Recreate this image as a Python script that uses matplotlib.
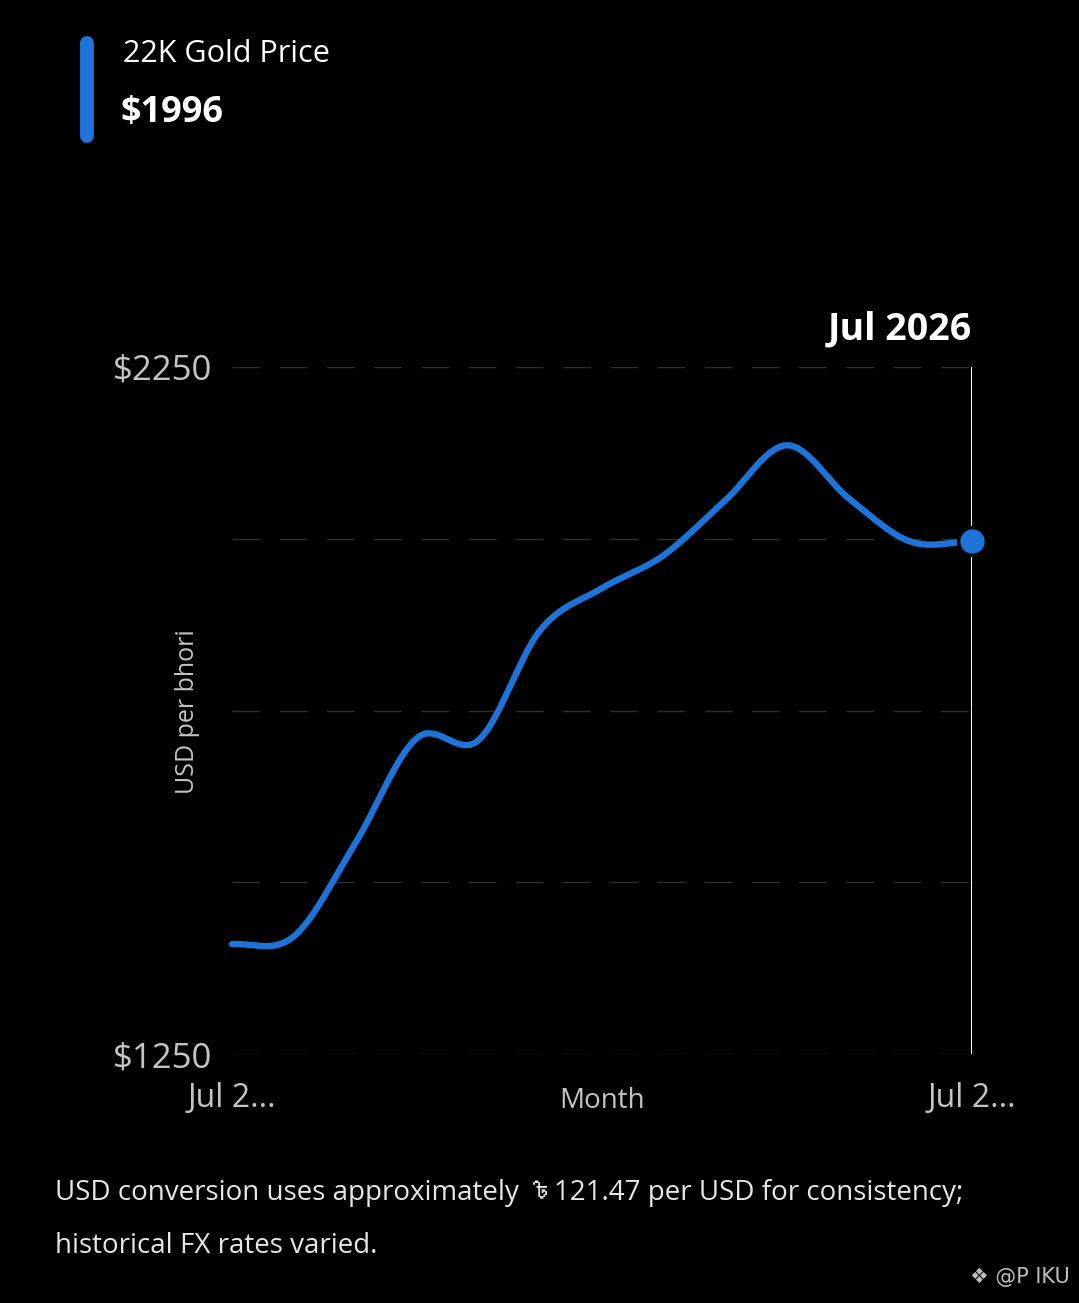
import numpy as np
import matplotlib
matplotlib.use("Agg")
import matplotlib.pyplot as plt
from matplotlib.lines import Line2D
from matplotlib import font_manager, ft2font

# ---- data ----
months = ["Jul 2025", "Aug 2025", "Sep 2025", "Oct 2025", "Nov 2025", "Dec 2025",
          "Jan 2026", "Feb 2026", "Mar 2026", "Apr 2026", "May 2026", "Jun 2026", "Jul 2026"]
price_usd = [1410, 1421, 1557, 1710, 1707, 1867, 1928, 1976, 2056, 2136, 2059, 1996, 1996]
y_ticks = [1250, 1500, 1750, 2000, 2250]
y_tick_labels = ["$1250", "", "", "", "$2250"]
x_tick_labels = ["Jul 2...", "Jul 2..."]
title = "22K Gold Price"
current_label = "$1996"
note_before = "USD conversion uses approximately "
taka = "\u09f3"
note_after = "121.47 per USD for consistency;"
note_line2 = "historical FX rates varied."
watermark = "\u2756 @P IKU"

W, H = 1079, 1303
BLUE = "#1E73D8"
GRAY = "#c4c4c4"
NOTE = "#e6e6e6"
FONT = ["Open Sans", "DejaVu Sans", "Noto Sans"]
plt.rcParams["font.family"] = FONT


def find_family(ch):
    for f in font_manager.fontManager.ttflist:
        try:
            if ord(ch) in ft2font.FT2Font(f.fname).get_charmap():
                return f.name
        except Exception:
            pass
    return None


taka_family = find_family(taka)

fig = plt.figure(figsize=(W / 100, H / 100), dpi=100, facecolor="black")


def fx(px):
    return px / W


def fy(py):
    return 1 - py / H


ax = fig.add_axes([fx(232), fy(1054), fx(972) - fx(232), fy(367) - fy(1054)])
ax.set_facecolor("black")

x = np.arange(len(months))
y = np.array(price_usd, dtype=float)


# smooth Catmull-Rom curve through the monthly points
def catmull_rom(xs, ys, n=40):
    px = np.concatenate([[xs[0]], xs, [xs[-1]]])
    py = np.concatenate([[ys[0]], ys, [ys[-1]]])
    out_x, out_y = [], []
    for i in range(1, len(px) - 2):
        t = np.linspace(0, 1, n, endpoint=False)
        p0, p1, p2, p3 = py[i - 1], py[i], py[i + 1], py[i + 2]
        m1 = (p2 - p0) / 2
        m2 = (p3 - p1) / 2
        h00 = 2 * t**3 - 3 * t**2 + 1
        h10 = t**3 - 2 * t**2 + t
        h01 = -2 * t**3 + 3 * t**2
        h11 = t**3 - t**2
        out_y.append(h00 * p1 + h10 * m1 + h01 * p2 + h11 * m2)
        out_x.append(px[i] + t * (px[i + 1] - px[i]))
    out_x.append([xs[-1]])
    out_y.append([ys[-1]])
    return np.concatenate(out_x), np.concatenate(out_y)


sx, sy = catmull_rom(x.astype(float), y)

ax.set_xlim(0, len(months) - 1)
ax.set_ylim(y_ticks[0], y_ticks[-1])

for yt in y_ticks:
    ax.axhline(yt, color="#2e2e2e", lw=1, linestyle=(0, (20, 14)), zorder=1)

ax.axvline(len(months) - 1, color="white", lw=2.2, zorder=2)
ax.plot(sx, sy, color=BLUE, lw=4.6, solid_capstyle="round", zorder=3, clip_on=False)
ax.plot([x[-1]], [y[-1]], "o", ms=20, mfc=BLUE, mec="#050505", mew=2.5, zorder=4, clip_on=False)

for s in ax.spines.values():
    s.set_visible(False)

ax.set_yticks(y_ticks)
ax.set_yticklabels(y_tick_labels)
ax.set_xticks([0, len(months) - 1])
ax.set_xticklabels(x_tick_labels)
ax.tick_params(axis="y", length=0, pad=14, labelsize=25, labelcolor=GRAY)
ax.tick_params(axis="x", length=0, pad=20, labelsize=23, labelcolor=GRAY)

ax.text(len(months) - 1, 1.027, months[-1], transform=ax.get_xaxis_transform(),
        ha="right", va="bottom", color="white", fontsize=27, fontweight="bold")

fig.text(fx(602), fy(1101), "Month", ha="center", va="center", color=GRAY, fontsize=20)
fig.text(fx(188), fy(712), "USD per bhori", ha="center", va="center", rotation=90,
         color=GRAY, fontsize=18)

# header
fig.add_artist(Line2D([fx(87), fx(87)], [fy(43), fy(136)], color=BLUE, lw=10,
                      solid_capstyle="round"))
fig.text(fx(123), fy(54), title, ha="left", va="center", color="white", fontsize=22)
fig.text(fx(121), fy(113), current_label, ha="left", va="center", color="white",
         fontsize=26, fontweight="bold")

# footnote
NFS = 20
if taka_family:
    fig.text(fx(55), fy(1200), note_before + taka + note_after, ha="left", va="baseline",
             color=NOTE, fontsize=NFS, family=FONT + [taka_family])
else:
    # no installed family has the taka sign: draw it as a small stroke shape
    t1 = fig.text(fx(55), fy(1200), note_before, ha="left", va="baseline",
                  color=NOTE, fontsize=NFS)
    renderer = fig.canvas.get_renderer()
    right_px = t1.get_window_extent(renderer).x1
    cap = NFS * 100 / 72 * 0.78
    gx0 = right_px + 1
    base = 1200
    strokes = [
        [(0.0, 0.28), (0.06, 0.06), (0.18, 0.0), (0.72, 0.0)],
        [(0.18, 0.0), (0.2, 0.55), (0.34, 0.47), (0.55, 0.5), (0.66, 0.66),
         (0.62, 0.88), (0.45, 1.0), (0.28, 0.98), (0.2, 0.9)],
    ]
    for st in strokes:
        px_ = [gx0 + u * cap for u, v in st]
        py_ = [base - cap + v * cap for u, v in st]
        fig.add_artist(Line2D([p / W for p in px_], [fy(p) for p in py_], color=NOTE,
                              lw=1.9, solid_capstyle="round", solid_joinstyle="round"))
    fig.text((gx0 + 0.8 * cap) / W, fy(1200), note_after, ha="left", va="baseline",
             color=NOTE, fontsize=NFS)
fig.text(fx(55), fy(1253), note_line2, ha="left", va="baseline", color=NOTE, fontsize=NFS)

fig.text(fx(1070), fy(1277), watermark, ha="right", va="center", color="#bdbdbd",
         fontsize=15, family=["DejaVu Sans"])

fig.savefig("out.png", dpi=100, facecolor="black")
